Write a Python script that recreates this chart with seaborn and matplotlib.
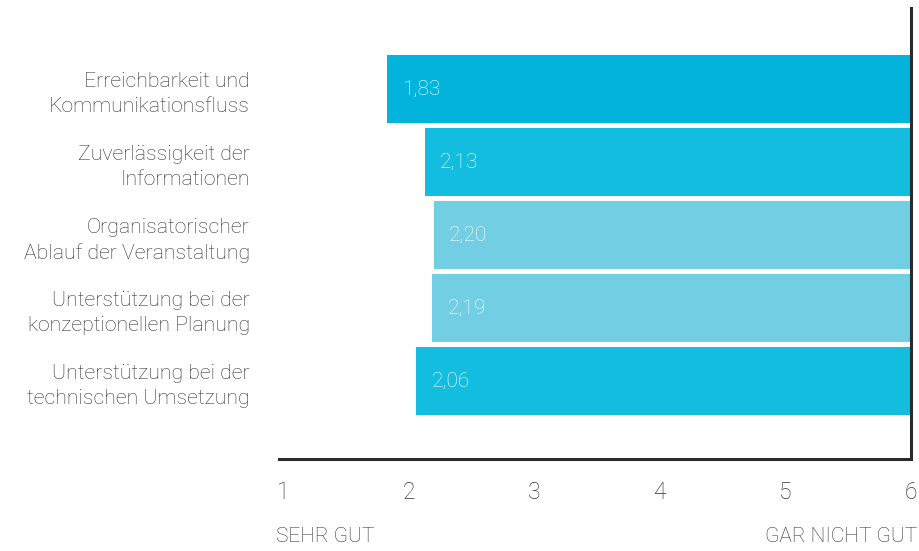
import matplotlib
matplotlib.use("Agg")
import matplotlib.pyplot as plt
import seaborn as sns
import pandas as pd

categories = [
    "Erreichbarkeit und\nKommunikationsfluss",
    "Zuverlässigkeit der\nInformationen",
    "Organisatorischer\nAblauf der Veranstaltung",
    "Unterstützung bei der\nkonzeptionellen Planung",
    "Unterstützung bei der\ntechnischen Umsetzung",
]
scores = [1.83, 2.13, 2.20, 2.19, 2.06]
bar_colors = ["#02B3DC", "#12BDDF", "#72CEE2", "#72CEE2", "#12BDDF"]
scale_ticks = [1, 2, 3, 4, 5, 6]
scale_min, scale_max = 1, 6
end_labels = ["SEHR GUT", "GAR NICHT GUT"]

sns.set_theme(style="white")
plt.rcParams["font.family"] = ["Roboto", "DejaVu Sans"]

df = pd.DataFrame({"Kategorie": categories, "Wert": scores})
df["Spanne"] = scale_max - df["Wert"]

fig = plt.figure(figsize=(9.19, 5.51), dpi=100)
ax = fig.add_axes([0.3036, 0.167, 0.6877, 0.8185])

sns.barplot(data=df, x="Spanne", y="Kategorie", hue="Kategorie",
            palette=bar_colors, legend=False, width=0.93, ax=ax,
            saturation=1, edgecolor="none")

# each bar runs from its score up to the end of the scale
for patch, val in zip(ax.patches, scores):
    patch.set_x(val)
    patch.set_width(scale_max - val)
    ax.annotate(f"{val:.2f}".replace(".", ","),
                xy=(val, patch.get_y() + patch.get_height() / 2),
                xytext=(11, 0), textcoords="offset points",
                ha="left", va="center", color="white",
                fontsize=15, fontweight="light")

ax.set_xlim(0.968, 6.0)
ax.set_ylim(5.06, -1.108)
ax.set_xticks(scale_ticks)
ax.set_xticklabels([str(t) for t in scale_ticks])
ax.tick_params(axis="x", length=0, pad=16, labelsize=16.5, labelcolor="#333333")
ax.tick_params(axis="y", length=0, pad=21, labelsize=15.3, labelcolor="#333333")
for lbl in ax.get_xticklabels():
    lbl.set_fontweight("light")
for lbl in ax.get_yticklabels():
    lbl.set_fontweight("light")
    lbl.set_linespacing(1.4)
ax.set_xlabel("")
ax.set_ylabel("")

for side in ["top", "left"]:
    ax.spines[side].set_visible(False)
for side in ["bottom", "right"]:
    ax.spines[side].set_visible(True)
    ax.spines[side].set_color("#2b2b2b")
    ax.spines[side].set_linewidth(2.2)

fig.text(276 / 919, 1 - 537 / 551, end_labels[0], ha="left", va="center",
         fontsize=15, fontweight="light", color="#333333")
fig.text(917 / 919, 1 - 537 / 551, end_labels[1], ha="right", va="center",
         fontsize=15, fontweight="light", color="#333333")

fig.savefig("out.png", dpi=100)
